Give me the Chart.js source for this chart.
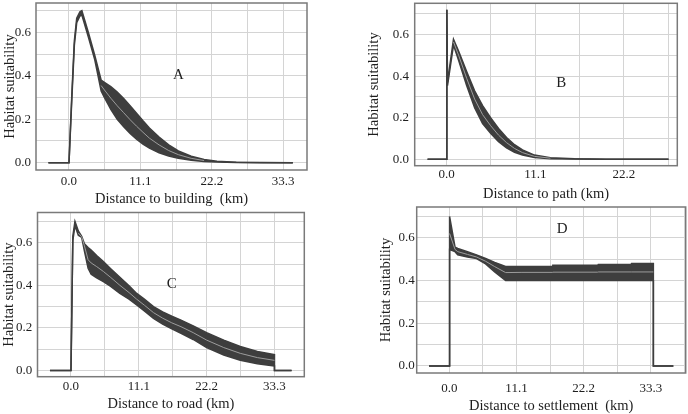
<!DOCTYPE html>
<html><head><meta charset="utf-8">
<script src="https://cdn.jsdelivr.net/npm/chart.js@4.4.0/dist/chart.umd.min.js"></script>
<style>
html,body{margin:0;padding:0;background:#fff;}
#wrap{position:relative;width:688px;height:414px;overflow:hidden;background:#fff;}
canvas{position:absolute;left:0;top:0;}
</style></head><body><div id="wrap">
<canvas id="cA" width="688" height="414"></canvas>
<canvas id="cB" width="688" height="414"></canvas>
<canvas id="cC" width="688" height="414"></canvas>
<canvas id="cD" width="688" height="414"></canvas>
</div>
<script>
// ---------- data (km, habitat suitability) ----------
const aDist  = [-3.2, 0, 0.42, 0.83, 1.2, 1.7, 2.0, 3.0, 4.0, 5.0, 5.5, 6.5, 7.5, 8.5, 9.5, 10.5, 11.5, 12.5, 14, 15.5, 17, 19, 21, 23, 26, 30, 34.8];
const aUpper = [0, 0, 0.30, 0.56, 0.665, 0.695, 0.70, 0.60, 0.495, 0.38, 0.37, 0.35, 0.325, 0.295, 0.262, 0.228, 0.193, 0.16, 0.118, 0.082, 0.054, 0.03, 0.015, 0.007, 0.002, 0.001, 0];
const aLower = [0, 0, 0.28, 0.54, 0.645, 0.675, 0.68, 0.58, 0.475, 0.33, 0.30, 0.245, 0.20, 0.165, 0.135, 0.108, 0.086, 0.067, 0.046, 0.031, 0.02, 0.011, 0.006, 0.003, 0.001, 0, 0];
const aMean  = [null, null, null, null, null, null, null, null, null, 0.355, 0.335, 0.297, 0.262, 0.23, 0.198, 0.168, 0.14, 0.113, 0.082, 0.056, 0.037, 0.02, 0.01, null, null, null, null];

const bDist  = [-2.4, 0, 0.02, 0.1, 0.85, 1.5, 2.5, 3.5, 4.5, 5.5, 6.5, 7.5, 8.5, 9.5, 11, 13, 16, 20, 27.8];
const bUpper = [0, 0, 0.72, 0.37, 0.578, 0.52, 0.423, 0.33, 0.258, 0.2, 0.148, 0.105, 0.07, 0.045, 0.02, 0.007, 0.002, 0.0005, 0];
const bLower = [0, 0, 0.72, 0.355, 0.55, 0.475, 0.355, 0.248, 0.172, 0.125, 0.085, 0.055, 0.034, 0.02, 0.009, 0.003, 0.001, 0, 0];
const bMean  = [null, null, null, null, 0.565, 0.50, 0.39, 0.29, 0.215, 0.162, 0.116, 0.08, 0.052, 0.032, 0.014, 0.005, null, null, null];

const cDist  = [-3.44, 0, 0.3, 0.65, 1.2, 1.75, 2.2, 2.8, 3.3, 4.2, 5.3, 6.5, 8.0, 9.5, 10.75, 12, 13.5, 15, 16.5, 18, 20, 22.2, 25, 27.7, 30.5, 33.3, 33.3, 36.1];
const cUpper = [0, 0, 0.63, 0.70, 0.655, 0.63, 0.595, 0.577, 0.565, 0.54, 0.511, 0.478, 0.438, 0.398, 0.362, 0.335, 0.30, 0.275, 0.255, 0.237, 0.21, 0.178, 0.143, 0.113, 0.09, 0.075, 0, 0];
const cLower = [0, 0, 0.61, 0.68, 0.635, 0.625, 0.56, 0.48, 0.452, 0.435, 0.417, 0.395, 0.362, 0.335, 0.308, 0.28, 0.245, 0.218, 0.196, 0.175, 0.146, 0.108, 0.073, 0.049, 0.032, 0.022, 0, 0];
const cMean  = [null, null, null, null, 0.645, 0.628, 0.585, 0.52, 0.505, 0.488, 0.465, 0.437, 0.40, 0.366, 0.335, 0.307, 0.272, 0.246, 0.224, 0.206, 0.178, 0.143, 0.108, 0.081, 0.061, 0.048, null, null];

const dDist  = [-3.35, 0, 0.05, 0.95, 1.4, 3.0, 4.5, 6.0, 7.5, 9.3, 12, 17, 17.1, 24.5, 24.6, 30, 30.1, 33.7, 33.7, 37];
const dUpper = [0, 0, 0.70, 0.556, 0.55, 0.535, 0.52, 0.503, 0.485, 0.466, 0.466, 0.466, 0.471, 0.471, 0.475, 0.475, 0.479, 0.479, 0, 0];
const dLower = [0, 0, 0.545, 0.535, 0.52, 0.51, 0.503, 0.478, 0.44, 0.40, 0.40, 0.40, 0.40, 0.40, 0.40, 0.40, 0.40, 0.40, 0, 0];
const dMean  = [null, null, 0.62, 0.545, 0.535, 0.522, 0.51, 0.49, 0.465, 0.437, 0.438, 0.438, 0.439, 0.439, 0.44, 0.44, 0.44, 0.44, null, null];

// ticks
const xTickVals   = [0, 11.1, 22.2, 33.3];
const xTickLabels = ['0.0', '11.1', '22.2', '33.3'];
const xGridVals   = [0, 5.55, 11.1, 16.65, 22.2, 27.75, 33.3, 38.85];
const yTickVals   = [0, 0.2, 0.4, 0.6];
const yTickLabels = ['0.0', '0.2', '0.4', '0.6'];
const yGridVals   = [0, 0.1, 0.2, 0.3, 0.4, 0.5, 0.6, 0.7];

// ---------- drawing ----------
const FONT = "'Liberation Serif','Times New Roman',serif";
const INK = '#1e1e1e';
const BAND = '#3e3e3e';
const MEANC = '#9c9c9c';
const GRID = '#d4d4d4';

const framePlugin = {
  id: 'frame',
  afterDraw(chart, args, opts) {
    const {ctx, chartArea: a, scales} = chart;
    ctx.save();
    ctx.strokeStyle = '#7a7a7a';
    ctx.lineWidth = 1.5;
    ctx.strokeRect(a.left, a.top, a.right - a.left, a.bottom - a.top);
    ctx.fillStyle = INK;
    ctx.font = '15px ' + FONT;
    ctx.textAlign = 'center';
    ctx.textBaseline = 'middle';
    ctx.fillText(opts.letter, scales.x.getPixelForValue(opts.lx), scales.y.getPixelForValue(opts.ly));
    ctx.restore();
  }
};

function pts(xs, ys) { return xs.map((x, i) => ({x: x, y: ys[i]})); }
function labelFor(vals, labels) {
  return v => { const i = vals.findIndex(t => Math.abs(t - v) < 1e-6); return i >= 0 ? labels[i] : ''; };
}

function makePanel(id, p) {
  new Chart(document.getElementById(id), {
    type: 'line',
    data: {
      datasets: [
        {data: pts(p.dist, p.mean), borderColor: MEANC, borderWidth: 1, pointRadius: 0, fill: false, spanGaps: false},
        {data: pts(p.dist, p.upper), borderColor: BAND, borderWidth: 1.5, pointRadius: 0, fill: '+1', backgroundColor: BAND},
        {data: pts(p.dist, p.lower), borderColor: BAND, borderWidth: 1.5, pointRadius: 0, fill: false}
      ]
    },
    options: {
      responsive: false, animation: false, devicePixelRatio: 1,
      layout: {padding: p.pad},
      elements: {line: {tension: 0}},
      plugins: {legend: {display: false}, tooltip: {enabled: false},
        frame: {letter: p.letter, lx: p.lx, ly: p.ly}},
      scales: {
        x: {
          type: 'linear', min: p.xMin, max: p.xMax,
          afterBuildTicks: s => { s.ticks = xGridVals.filter(v => v >= p.xMin && v <= p.xMax).map(v => ({value: v})); },
          afterFit: s => { s.height = p.xH; s.paddingLeft = 0; s.paddingRight = 0; },
          grid: {color: GRID, lineWidth: 1, drawTicks: false},
          border: {display: false},
          ticks: {autoSkip: false, maxRotation: 0, minRotation: 0, padding: p.xTickPad, color: INK,
                  font: {family: FONT, size: 13}, callback: labelFor(xTickVals, xTickLabels)},
          title: {display: true, text: p.xTitle, color: INK, font: {family: FONT, size: 14.5, lineHeight: 1},
                  padding: {top: 0, bottom: 0}}
        },
        y: {
          type: 'linear', min: p.yMin, max: p.yMax,
          afterBuildTicks: s => { s.ticks = yGridVals.map(v => ({value: v})); },
          afterFit: s => { s.width = p.yW; s.paddingTop = 0; s.paddingBottom = 0; },
          grid: {color: GRID, lineWidth: 1, drawTicks: false},
          border: {display: false},
          ticks: {autoSkip: false, padding: p.yTickPad, color: INK,
                  font: {family: FONT, size: 13}, callback: labelFor(yTickVals, yTickLabels)},
          title: {display: true, text: 'Habitat suitability', color: INK, font: {family: FONT, size: 14.5, lineHeight: 1},
                  padding: {top: p.yTitlePad, bottom: 0}}
        }
      }
    },
    plugins: [framePlugin]
  });
}

makePanel('cA', {dist: aDist, upper: aUpper, lower: aLower, mean: aMean,
  xMin: -5.13, xMax: 37.0, yMin: -0.0336, yMax: 0.735,
  pad: {left: 0, right: 381, top: 3, bottom: 207.75}, yW: 36, xH: 36.25,
  yTitlePad: 3.25, yTickPad: 5, xTickPad: 4,
  xTitle: 'Distance to building  (km)', letter: 'A', lx: 17.0, ly: 0.404});

makePanel('cB', {dist: bDist, upper: bUpper, lower: bLower, mean: bMean,
  xMin: -4.01, xMax: 28.9, yMin: -0.031, yMax: 0.751,
  pad: {left: 364.75, right: 10.7, top: 3.3, bottom: 212.75}, yW: 49.95, xH: 35.55,
  yTitlePad: 2, yTickPad: 5.7, xTickPad: 1.5,
  xTitle: 'Distance to path (km)', letter: 'B', lx: 14.36, ly: 0.369});

makePanel('cC', {dist: cDist, upper: cUpper, lower: cLower, mean: cMean,
  xMin: -5.48, xMax: 38.18, yMin: -0.0286, yMax: 0.7416,
  pad: {left: 0, right: 383.7, top: 212.5, bottom: 3.05}, yW: 37.5, xH: 34.25,
  yTitlePad: 2.25, yTickPad: 5.2, xTickPad: 2.5,
  xTitle: 'Distance to road (km)', letter: 'C', lx: 16.48, ly: 0.405});

makePanel('cD', {dist: dDist, upper: dUpper, lower: dLower, mean: dMean,
  xMin: -5.38, xMax: 39.04, yMin: -0.033, yMax: 0.744,
  pad: {left: 376.75, right: 2.3, top: 207, bottom: 0.75}, yW: 39.95, xH: 40.25,
  yTitlePad: 2, yTickPad: 2, xTickPad: 7.5,
  xTitle: 'Distance to settlement  (km)', letter: 'D', lx: 18.66, ly: 0.642});
</script>
</body></html>
